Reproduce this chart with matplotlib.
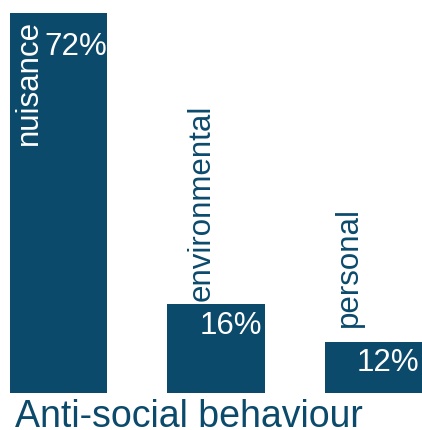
import matplotlib
matplotlib.use("Agg")
import matplotlib.pyplot as plt

# shares of anti-social behaviour types
categories = ["nuisance", "environmental", "personal"]
heights = [72, 16.9, 9.7]          # bar heights
value_labels = ["72%", "16%", "12%"]

plt.rcParams["font.family"] = ["Liberation Sans", "DejaVu Sans"]

bar_color = "#0c4a6c"
W, H = 422, 430

fig = plt.figure(figsize=(W / 100, H / 100), dpi=100)
ax = fig.add_axes([10 / W, (H - 393) / H, 412 / W, (393 - 13.3) / H])

x = list(range(len(categories)))
bars = ax.bar(x, heights, width=0.62, color=bar_color)
ax.set_xlim(-0.31, len(categories) - 1 + 0.31)
ax.set_ylim(0, max(heights))
ax.axis("off")

# label placement (pixel offsets), tuned by eye
name_inside = [True, False, False]
name_off = [(26.5, -6.5), (-6.5, 3), (-16.5, 14.7)]
val_off = [(-0.5, -41.7), (-2.3, -30), (-2.7, -29.3)]

for b, name, lab, inside, noff, voff in zip(bars, categories, value_labels,
                                            name_inside, name_off, val_off):
    top = b.get_height()
    if inside:
        ax.annotate(name, xy=(b.get_x(), top), xytext=noff,
                    textcoords="offset pixels", rotation=90,
                    rotation_mode="anchor", ha="right", va="baseline",
                    fontsize=22.5, color="white")
    else:
        ax.annotate(name, xy=(b.get_x() + b.get_width() / 2, top), xytext=noff,
                    textcoords="offset pixels", rotation=90,
                    rotation_mode="anchor", ha="left", va="baseline",
                    fontsize=22.5, color=bar_color, annotation_clip=False)
    ax.annotate(lab, xy=(b.get_x() + b.get_width(), top), xytext=voff,
                textcoords="offset pixels", ha="right", va="baseline",
                fontsize=22.5, color="white")

fig.text(15 / W, 3 / H, "Anti-social behaviour", fontsize=27,
         color=bar_color, ha="left", va="baseline")

fig.savefig("out.png", dpi=100)
